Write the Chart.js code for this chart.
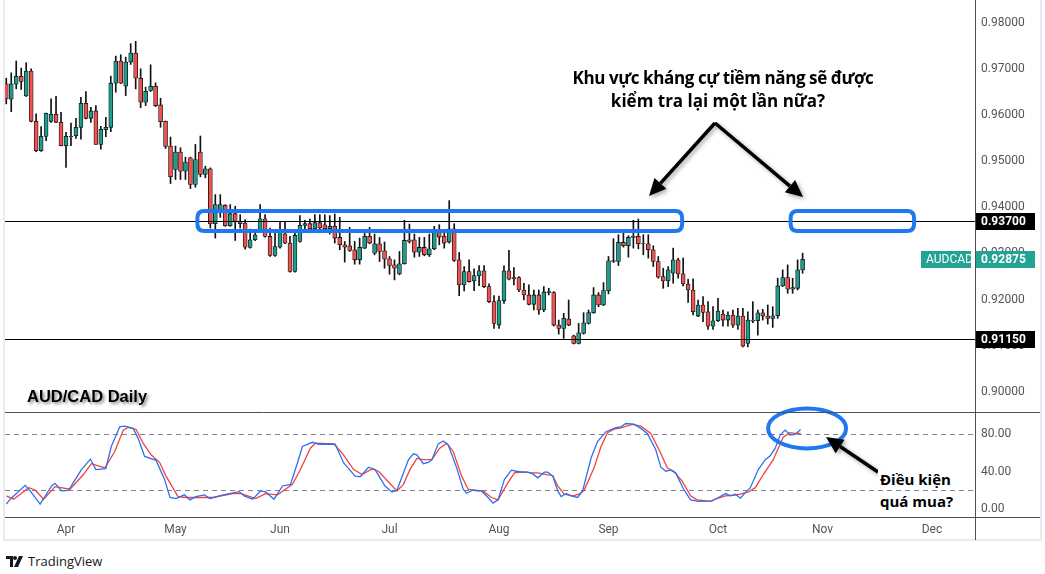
<!DOCTYPE html>
<html>
<head>
<meta charset="utf-8">
<script src="https://cdn.jsdelivr.net/npm/chart.js@4.4.1/dist/chart.umd.min.js"></script>
<style>
  body { margin: 0; background: #fff; }
  #wrap { position: relative; width: 1045px; height: 574px; overflow: hidden; font-family: 'Open Sans', sans-serif; }
  #frame { position: absolute; left: 3px; top: 0; width: 1035px; height: 539px; border: 2px solid #e9eaef; border-top: none; }
  canvas { position: absolute; left: 0; top: 0; }
  .note { position: absolute; font-weight: 700; color: #000; white-space: nowrap; line-height: 20px; }
  .title { font-size: 17px; transform: translateX(-50%); }
  #pair { left: 27px; top: 386px; font-family: 'Liberation Sans', Arial, sans-serif; font-size: 16.5px; text-shadow: 2px 2px 3px rgba(0,0,0,0.45); }
  .ob { font-size: 15px; background: #fff; padding: 0 2px; }
  #tv { position: absolute; left: 6px; top: 552px; font-family: 'Open Sans', sans-serif; font-size: 13px; color: #131722; display: flex; align-items: center; gap: 4px; }
</style>
</head>
<body>
<div id="wrap">
  <div id="frame"></div>
  <canvas id="chart" width="1040" height="540"></canvas>
  <div class="note title" style="left:723px; top:68px; letter-spacing:-0.4px;">Khu vực kháng cự tiềm năng sẽ được</div>
  <div class="note title" style="left:718px; top:91px;">kiểm tra lại một lần nữa?</div>
  <div class="note" id="pair">AUD/CAD Daily</div>
  <div class="note ob" style="left:878px; top:469px;">Điều kiện</div>
  <div class="note ob" style="left:878px; top:491px;">quá mua?</div>
  <div id="tv">
    <svg width="18" height="11" viewBox="0 0 18 11"><path d="M0 0h7v11H4V3H0z M9 0a2 2 0 1 1 0 4a2 2 0 1 1 0-4z M13 0h4l-5 11H8z" fill="#131722"/></svg>
    <span>TradingView</span>
  </div>
</div>
<script>
// daily candles, AUD/CAD, one per weekday starting mid March
const opens = [0.96674,0.96340,0.96667,0.96840,0.96413,0.96949,0.95862,0.95225,0.95536,0.95862,
  0.96014,0.95841,0.95333,0.95529,0.95551,0.95732,0.96254,0.95927,0.96087,0.95362,
  0.95681,0.95732,0.96688,0.97167,0.96623,0.97145,0.97340,0.96797,0.96275,0.96529,
  0.96623,0.96217,0.95862,0.95326,0.94819,0.95196,0.94783,0.95073,0.94493,0.95196,
  0.94710,0.94833,0.93645,0.93949,0.94043,0.93601,0.93862,0.93645,0.93659,0.93130,
  0.93297,0.93500,0.93753,0.93369,0.92956,0.93137,0.93427,0.93224,0.92609,0.93261,
  0.93609,0.93645,0.93536,0.93667,0.93623,0.93536,0.93587,0.93348,0.93189,0.93167,
  0.93080,0.92863,0.93116,0.93370,0.93008,0.93210,0.93058,0.92884,0.92754,0.92558,
  0.92776,0.93297,0.93297,0.93029,0.93131,0.92971,0.93102,0.93507,0.93370,0.93247,
  0.93536,0.92863,0.92319,0.92609,0.92406,0.92515,0.92623,0.92283,0.91957,0.91450,
  0.91979,0.92624,0.92479,0.92479,0.92210,0.92102,0.91899,0.92102,0.91776,0.92153,
  0.92153,0.91450,0.91377,0.91580,0.91218,0.91051,0.91269,0.91486,0.91718,0.92102,
  0.91884,0.92196,0.92826,0.92826,0.93239,0.93167,0.93348,0.93370,0.93205,0.93210,
  0.93080,0.92826,0.92500,0.92406,0.92572,0.92862,0.92558,0.92340,0.92210,0.91645,
  0.91884,0.91739,0.91427,0.91543,0.91688,0.91558,0.91667,0.91449,0.91645,0.91051,
  0.91536,0.91543,0.91717,0.91645,0.91594,0.91652,0.92297,0.92478,0.92225,0.92246,
  0.92645];
const highs = [0.96797,0.96913,0.97167,0.97014,0.97130,0.97000,0.96022,0.95746,0.96040,0.96348,
  0.96406,0.96058,0.95623,0.95826,0.95927,0.96384,0.96507,0.96167,0.96203,0.95754,
  0.95949,0.96840,0.97275,0.97304,0.97253,0.97543,0.97594,0.97000,0.96601,0.97087,
  0.96696,0.96362,0.95870,0.95522,0.95326,0.95290,0.95087,0.95087,0.95362,0.95544,
  0.94891,0.94855,0.94275,0.94275,0.94058,0.94058,0.94022,0.93840,0.93732,0.93529,
  0.93478,0.94058,0.93840,0.93551,0.93478,0.93696,0.93696,0.93369,0.93514,0.93819,
  0.93717,0.93746,0.93840,0.93840,0.93840,0.93820,0.93855,0.93783,0.93261,0.93565,
  0.93261,0.93334,0.93493,0.93565,0.93421,0.93348,0.93247,0.92935,0.92863,0.93044,
  0.93718,0.93638,0.93421,0.93348,0.93348,0.93421,0.93587,0.93623,0.93515,0.94145,
  0.93645,0.93022,0.92718,0.92863,0.92667,0.92739,0.92739,0.92341,0.92087,0.92080,
  0.92732,0.93066,0.92696,0.92500,0.92355,0.92319,0.92210,0.92210,0.92283,0.92247,
  0.92174,0.91558,0.91703,0.91993,0.91232,0.91486,0.91718,0.91776,0.92261,0.92153,
  0.92370,0.92935,0.93319,0.93406,0.93442,0.93384,0.93718,0.93747,0.93406,0.93406,
  0.93167,0.92935,0.92681,0.92717,0.93116,0.92898,0.92898,0.92442,0.92449,0.91993,
  0.92065,0.91956,0.91848,0.92029,0.91775,0.91739,0.91775,0.91812,0.91812,0.91739,
  0.91956,0.91775,0.91790,0.91884,0.91848,0.92464,0.92645,0.92753,0.92464,0.92862,
  0.93007];
const lows = [0.96239,0.96072,0.96565,0.96551,0.96399,0.95850,0.95203,0.95210,0.95442,0.95841,
  0.95835,0.95330,0.94862,0.95333,0.95493,0.95478,0.95913,0.95841,0.95360,0.95261,
  0.95529,0.95638,0.96493,0.96680,0.96420,0.97094,0.96565,0.96159,0.96203,0.96507,
  0.96181,0.95732,0.95275,0.94515,0.94602,0.94602,0.94602,0.94406,0.94435,0.94660,
  0.94638,0.93551,0.93333,0.93782,0.93587,0.93587,0.93282,0.93551,0.93094,0.93116,
  0.93275,0.93478,0.93355,0.92935,0.92935,0.93116,0.93210,0.92594,0.92594,0.93246,
  0.93529,0.93514,0.93514,0.93500,0.93478,0.93420,0.93225,0.93080,0.92812,0.93044,
  0.92768,0.92768,0.93102,0.93210,0.92971,0.92826,0.92681,0.92551,0.92428,0.92537,
  0.92770,0.93225,0.92921,0.92935,0.92950,0.92935,0.93080,0.93189,0.93116,0.93225,
  0.92826,0.92087,0.92189,0.92377,0.92196,0.92305,0.92261,0.91935,0.91377,0.91377,
  0.91921,0.92428,0.92319,0.92174,0.91993,0.91884,0.91776,0.91682,0.91740,0.92102,
  0.91428,0.91254,0.91160,0.91435,0.91040,0.91040,0.91254,0.91471,0.91703,0.91848,
  0.91870,0.92124,0.92805,0.92739,0.93138,0.92921,0.93116,0.93102,0.92971,0.92899,
  0.92718,0.92464,0.92246,0.92283,0.92355,0.92464,0.92297,0.91942,0.91667,0.91630,
  0.91522,0.91355,0.91355,0.91522,0.91427,0.91427,0.91398,0.91355,0.90978,0.90978,
  0.91500,0.91232,0.91558,0.91471,0.91398,0.91594,0.92283,0.92138,0.92138,0.92210,
  0.92572];
const closes = [0.96348,0.96674,0.96840,0.96725,0.96949,0.95862,0.95225,0.95536,0.96036,0.96014,
  0.95841,0.95333,0.95536,0.95536,0.95732,0.96254,0.95927,0.96087,0.95362,0.95688,
  0.95732,0.96688,0.97167,0.96688,0.97145,0.97340,0.96797,0.96275,0.96514,0.96623,
  0.96203,0.95855,0.95319,0.94660,0.95196,0.94783,0.94978,0.94493,0.95036,0.94710,
  0.94833,0.93638,0.94058,0.94058,0.93601,0.93862,0.93681,0.93696,0.93137,0.93297,
  0.93406,0.93753,0.93369,0.92956,0.93152,0.93500,0.93224,0.92609,0.93391,0.93609,
  0.93645,0.93536,0.93667,0.93551,0.93536,0.93587,0.93334,0.93189,0.93138,0.93065,
  0.92863,0.93131,0.93370,0.93225,0.93210,0.93044,0.92877,0.92739,0.92681,0.92776,
  0.93283,0.93261,0.93029,0.93131,0.92971,0.93102,0.93507,0.93355,0.93225,0.93536,
  0.92848,0.92319,0.92609,0.92392,0.92522,0.92623,0.92283,0.91957,0.91486,0.91979,
  0.92624,0.92442,0.92450,0.92210,0.92102,0.91899,0.92102,0.91776,0.92167,0.92174,
  0.91450,0.91377,0.91595,0.91450,0.91051,0.91283,0.91500,0.91718,0.92102,0.91884,
  0.92196,0.92841,0.92848,0.93239,0.93167,0.93348,0.93370,0.93210,0.93215,0.93080,
  0.92826,0.92486,0.92406,0.92645,0.92862,0.92558,0.92340,0.92210,0.91739,0.91884,
  0.91725,0.91427,0.91543,0.91754,0.91558,0.91667,0.91449,0.91645,0.90993,0.91558,
  0.91558,0.91717,0.91645,0.91594,0.91652,0.92297,0.92478,0.92225,0.92261,0.92645,
  0.92875];

// stochastic %K (blue) and %D (red), read at the turning points (x = candle number)
const kIdx = [1,1.8,4.8,5.8,7.8,10.1,10.8,12.1,13.5,16.1,17.9,19,21,22.1,23.8,24.8,26.5,27.5,28.8,31.1,
  32.8,33.9,35.1,36.8,37.9,39.1,40.8,41.9,43.8,45.8,47.8,48.8,50.5,52.1,53.1,54.8,56.5,58.1,59.5,60.5,
  62.5,63.8,67.1,68.8,71.1,72.1,73.8,75.1,77.1,78.5,79.5,81.8,82.8,83.5,84.8,85.8,86.5,87.8,88.8,89.8,
  91.5,92.8,93.5,94.8,96.5,97.8,98.8,99.8,101.1,102.5,103.5,104.8,105.8,106.8,107.8,109.1,109.8,110.8,111.8,112.5,
  113.5,114.5,115.8,116.8,118.5,119.8,121.5,123.5,124.5,125.5,127.1,128.5,129.8,131.5,132.5,133.5,134.5,135.5,137.1,138.5,
  140.1,142.8,144.1,145.5,146.5,147.5,148.5,149.5,150.5,152.1,153.5,154.5,155.5,156.5,157.5,158.5,159.5,160.6];
const kVal = [5.3,10.5,25.3,19.3,5.3,24.6,27.4,19.3,20,42.1,53.3,42.1,43.2,66.7,87.7,88.4,86,75.4,56.1,51.9,
  31.6,12.3,11.2,15.1,9.8,13.3,15.1,11.2,14,16.5,18.6,14,10.5,19.3,18.2,10.5,24.6,26.3,49.1,66.7,
  71.2,69.1,69.1,49.1,35.1,34.4,44.6,42.1,24.6,18.2,20,52.6,58.9,57.9,48.4,49.8,52.6,69.5,72.6,68.4,
  43.9,21.1,16.8,20.3,19.3,12.3,6.3,9.8,31.6,41.4,40.3,39.3,39.3,37.5,33.3,39.3,39.3,35.1,19.3,13.3,
  16.5,14,12.3,19.3,54.4,71.9,82.5,86.7,87.7,91.2,90.5,86,80.7,63.2,44.9,40.3,41.4,38.6,21.1,9.8,
  8.1,8.8,12.3,16.5,14,15.8,11.6,17.5,22.8,42.1,52.6,56.8,64.9,78.9,84.2,78.9,79.6,84.9];
const dIdx = [1,2.5,5.5,6.8,8.5,10.8,13.8,16.5,18.1,20.8,22.8,24.5,25.5,27.1,28.5,30.1,31.8,33.1,35.5,37.1,
  39.8,42.5,46.5,48.1,51.1,53.1,55.5,58.5,60.1,62.1,63.1,66.8,68.5,70.8,72.5,74.5,75.8,79.5,80.8,82.1,
  83.5,84.8,86.5,88.1,89.5,90.8,92.5,93.8,95.5,96.8,98.5,99.8,101.8,103.1,105.1,106.5,107.8,109.5,110.8,111.8,
  113.1,114.8,116.1,117.1,119.1,120.5,121.8,123.1,124.5,126.8,128.5,130.5,132.5,133.8,135.1,136.8,138.5,139.8,142.5,143.8,
  145.5,147.1,148.5,150.1,151.5,153.1,155.1,157.1,158.5,159.5,160.6];
const dVal = [14,10.5,22.8,20.3,10.5,23.9,21.1,36.8,48.4,43.9,61.4,84.2,87,84.9,70.2,57.9,49.8,35.1,13.3,12.3,
  12.3,12.3,16.5,16.8,11.2,16.5,15.1,26.3,42.1,64.9,70.2,69.5,59.6,42.1,36.8,42.8,40.3,19.3,26.3,42,
  54,52.6,52.6,64.9,70.2,61.4,35.1,21.1,19.3,19.3,12.3,9.8,28.1,38.6,39.6,38.6,38.6,36.8,35.8,24.6,
  15.8,14,15.8,20,43.9,66.7,81.4,85.3,86.7,90.2,88.4,80.7,59.6,43.9,40.3,29.8,14,9.8,8.1,11.2,
  14,14.7,15.8,18.2,22.8,36.8,52.6,76.5,81.4,80.7,80.7];

// axis labels
const monthPos = [13, 35, 56, 78, 100, 122, 144, 165, 187];
const monthNames = ['Apr', 'May', 'Jun', 'Jul', 'Aug', 'Sep', 'Oct', 'Nov', 'Dec'];
const priceTicks = [0.90, 0.91, 0.92, 0.93, 0.94, 0.95, 0.96, 0.97, 0.98];
const stochTicks = [0, 40, 80];
const stochLevels = [80, 20];
const levels = [0.937, 0.9115];

const UP = '#1e9c8d', DOWN = '#ef5350', BOX = '#1f78f0';
const axisFont = { family: 'Roboto', size: 12 };

const candleColors = opens.map((o, i) => closes[i] >= o ? UP : DOWN);

function noPad(s) { s.paddingTop = 0; s.paddingBottom = 0; s.paddingLeft = 0; s.paddingRight = 0; }

function roundRect(ctx, x, y, w, h, r) {
  ctx.beginPath();
  ctx.moveTo(x + r, y);
  ctx.lineTo(x + w - r, y); ctx.quadraticCurveTo(x + w, y, x + w, y + r);
  ctx.lineTo(x + w, y + h - r); ctx.quadraticCurveTo(x + w, y + h, x + w - r, y + h);
  ctx.lineTo(x + r, y + h); ctx.quadraticCurveTo(x, y + h, x, y + h - r);
  ctx.lineTo(x, y + r); ctx.quadraticCurveTo(x, y, x + r, y);
  ctx.closePath();
}

function arrow(ctx, x1, y1, x2, y2) {
  const a = Math.atan2(y2 - y1, x2 - x1);
  const len = 17, half = 8;
  const bx = x2 - len * Math.cos(a), by = y2 - len * Math.sin(a);
  ctx.beginPath();
  ctx.moveTo(x1, y1); ctx.lineTo(bx, by);
  ctx.stroke();
  ctx.beginPath();
  ctx.moveTo(x2, y2);
  ctx.lineTo(bx + half * Math.sin(a), by - half * Math.cos(a));
  ctx.lineTo(bx - half * Math.sin(a), by + half * Math.cos(a));
  ctx.closePath();
  ctx.fill();
}

function tag(ctx, x, y, w, text, bg, bold) {
  const top = Math.round(y) - 8;
  ctx.fillStyle = bg;
  ctx.fillRect(x, top, w, 17);
  ctx.fillStyle = '#fff';
  ctx.font = (bold ? 'bold ' : '') + '12px Roboto';
  ctx.textBaseline = 'middle';
  ctx.textAlign = 'left';
  ctx.fillText(text, x + 5, top + 9);
}

const overlay = {
  id: 'overlay',
  beforeDatasetsDraw(chart) {
    const { ctx, chartArea: a, scales } = chart;
    ctx.save();
    ctx.strokeStyle = '#80838d';
    ctx.lineWidth = 1;
    ctx.setLineDash([5, 4]);
    stochLevels.forEach(v => {
      const y = Math.round(scales.ys.getPixelForValue(v)) + 0.5;
      ctx.beginPath(); ctx.moveTo(a.left, y); ctx.lineTo(a.right, y); ctx.stroke();
    });
    ctx.restore();
  },
  afterDatasetsDraw(chart) {
    const { ctx, chartArea: a, scales: { x, y, ys } } = chart;
    ctx.save();
    // price levels
    ctx.strokeStyle = '#000';
    ctx.lineWidth = 1;
    levels.forEach(p => {
      const py = Math.round(y.getPixelForValue(p)) + 0.5;
      ctx.beginPath(); ctx.moveTo(a.left, py); ctx.lineTo(a.right, py); ctx.stroke();
    });
    // resistance zones
    ctx.strokeStyle = BOX;
    ctx.lineWidth = 4;
    [[39.4, 136.8], [158.6, 183.4]].forEach(([i0, i1]) => {
      const x0 = x.getPixelForValue(i0), x1 = x.getPixelForValue(i1);
      const y0 = y.getPixelForValue(0.93919), y1 = y.getPixelForValue(0.93486);
      roundRect(ctx, x0, y0, x1 - x0, y1 - y0, 7);
      ctx.stroke();
    });
    // overbought circle
    ctx.beginPath();
    ctx.ellipse(x.getPixelForValue(161.9), ys.getPixelForValue(86), 39, 20, 0, 0, Math.PI * 2);
    ctx.stroke();
    // arrows
    ctx.strokeStyle = '#000';
    ctx.fillStyle = '#000';
    ctx.lineWidth = 3.5;
    ctx.shadowColor = 'rgba(0,0,0,0.35)';
    ctx.shadowBlur = 4;
    ctx.shadowOffsetX = 2;
    ctx.shadowOffsetY = 2;
    arrow(ctx, 715, 123, 649, 196);
    arrow(ctx, 715, 123, 803, 197);
    arrow(ctx, 878, 472, 826, 437);
    ctx.restore();
  },
  afterDraw(chart) {
    const { ctx, chartArea: a, scales: { y, ys }, width, height } = chart;
    ctx.save();
    ctx.strokeStyle = '#4c4f59';
    ctx.lineWidth = 1;
    ctx.beginPath();
    const xr = Math.round(a.right) + 0.5;
    ctx.moveTo(xr, 0); ctx.lineTo(xr, height);
    const yt = Math.round(ys.top) + 0.5, yb = Math.round(a.bottom) + 0.5;
    ctx.moveTo(a.left, yt); ctx.lineTo(width, yt);
    ctx.moveTo(a.left, yb); ctx.lineTo(width, yb);
    ctx.stroke();
    // axis tags
    levels.forEach(p => tag(ctx, a.right + 1, y.getPixelForValue(p), 59, p.toFixed(5), '#000', true));
    const last = closes[closes.length - 1];
    tag(ctx, a.right + 1, y.getPixelForValue(last), 59, last.toFixed(5), '#22a393', true);
    tag(ctx, a.right - 54, y.getPixelForValue(last), 50, 'AUDCAD', '#22a393', false);
    ctx.restore();
  }
};

new Chart(document.getElementById('chart'), {
  type: 'bar',
  data: {
    datasets: [
      {
        type: 'line', yAxisID: 'ys', order: 0,
        data: kIdx.map((v, i) => ({ x: v, y: kVal[i] })),
        borderColor: '#2f6ff0', borderWidth: 1.3, pointRadius: 0
      },
      {
        type: 'line', yAxisID: 'ys', order: 1,
        data: dIdx.map((v, i) => ({ x: v, y: dVal[i] })),
        borderColor: '#f0443c', borderWidth: 1.3, pointRadius: 0
      },
      {
        yAxisID: 'y', order: 2, grouped: false,
        data: opens.map((o, i) => ({ x: i + 1, y: [o, closes[i]] })),
        backgroundColor: candleColors, borderColor: '#111', borderWidth: 0.8,
        borderSkipped: false, barThickness: 4
      },
      {
        yAxisID: 'y', order: 3, grouped: false,
        data: lows.map((l, i) => ({ x: i + 1, y: [l, highs[i]] })),
        backgroundColor: '#111', barThickness: 1
      }
    ]
  },
  options: {
    responsive: false,
    animation: false,
    events: [],
    layout: { padding: { left: 5, top: 4, right: 0, bottom: 0 } },
    plugins: { legend: { display: false }, tooltip: { enabled: false } },
    scales: {
      x: {
        type: 'linear', min: 0.744, max: 195.64, offset: false,
        grid: { display: false, drawTicks: false }, border: { display: false },
        afterBuildTicks: s => { s.ticks = monthPos.map(v => ({ value: v })); },
        ticks: { callback: (v, i) => monthNames[i], color: '#555', font: axisFont, padding: 6, maxRotation: 0, autoSkip: false },
        afterFit: s => { s.height = 23; noPad(s); }
      },
      y: {
        type: 'linear', position: 'right', stack: 'panes', stackWeight: 408,
        min: 0.89567, max: 0.98403,
        grid: { display: false, drawTicks: false }, border: { display: false },
        afterBuildTicks: s => { s.ticks = priceTicks.map(v => ({ value: v })); },
        ticks: { callback: v => v.toFixed(5), color: '#555', font: axisFont, padding: 6 },
        afterFit: s => { s.width = 65; noPad(s); }
      },
      ys: {
        type: 'linear', position: 'right', stack: 'panes', stackWeight: 105,
        min: -8.5, max: 103.5,
        grid: { display: false, drawTicks: false }, border: { display: false },
        afterBuildTicks: s => { s.ticks = stochTicks.map(v => ({ value: v })); },
        ticks: { callback: v => v.toFixed(2), color: '#555', font: axisFont, padding: 6 },
        afterFit: s => { s.width = 65; noPad(s); }
      }
    }
  },
  plugins: [overlay]
});
</script>
</body>
</html>
